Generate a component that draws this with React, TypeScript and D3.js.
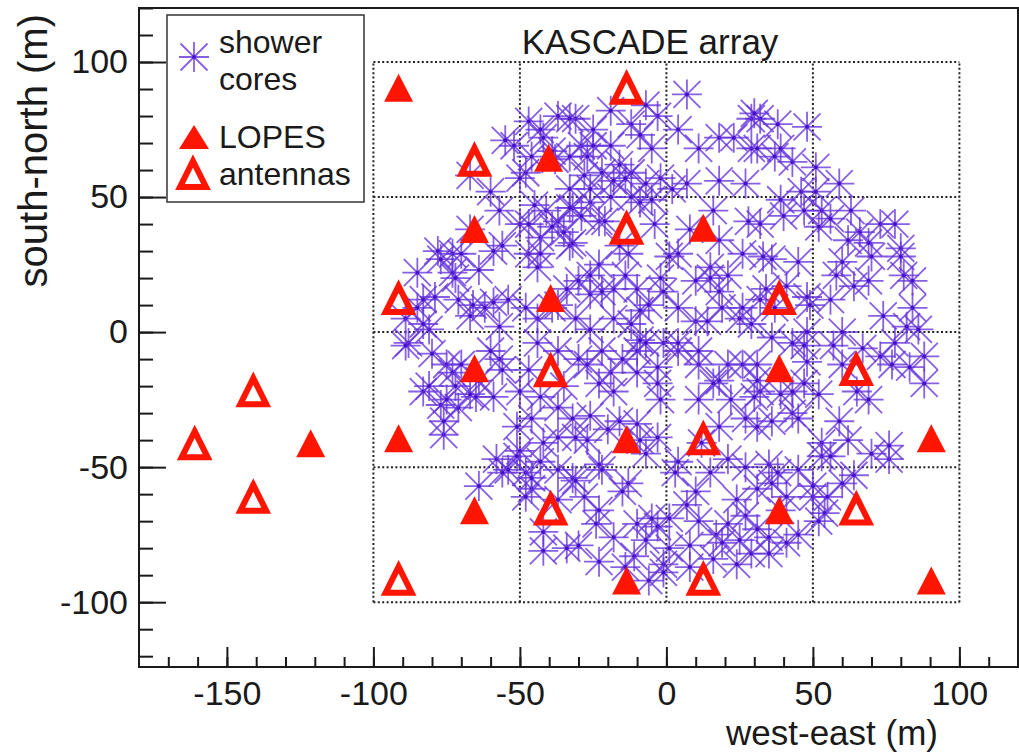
import * as d3 from 'd3';
import { useEffect, useRef } from 'react';

// shower core positions [west-east, south-north] in m
const showerCores: [number, number][] = [
    [-37, 80], [-43, 75], [-42, 72], [-52, 69], [-46, 65], [-48, 59], [-50, 57], [-67, 58],
    [-60, 52], [-33, 53], [-41, 45], [-37, 41], [-33, 32], [-43, 35], [-47, 29], [-44, 24],
    [-73, 29], [-73, 22], [-59, 30], [-56, 32], [-85, 22], [-79, 13], [-89, 5], [-67, 6],
    [-62, 9], [-54, 12], [-44, 5], [-57, 2], [-34, 16], [7, 88], [-3, 80], [-7, 84],
    [-12, 77], [-25, 75], [-29, 69], [-25, 69], [-19, 69], [-5, 68], [-16, 62], [-28, 58],
    [-12, 59], [-2, 57], [2, 53], [7, 55], [-19, 50], [-12, 50], [-9, 48], [-26, 48],
    [-23, 41], [-21, 41], [-32, 33], [-13, 29], [4, 29], [1, 28], [16, 45], [26, 29],
    [15, 24], [10, 19], [-2, 20], [-10, 16], [-18, 16], [-26, 14], [-30, 19], [18, 15],
    [4, 9], [10, 4], [14, 4], [-18, 5], [-12, 3], [11, 68], [18, 72], [23, 72],
    [29, 79], [29, 68], [28, 41], [38, 77], [48, 76], [32, 79], [43, 63], [51, 61],
    [59, 55], [46, 52], [51, 52], [47, 45], [53, 45], [63, 45], [52, 39], [32, 40],
    [73, 40], [78, 40], [33, 28], [36, 27], [45, 26], [60, 26], [70, 28], [80, 31],
    [80, 28], [81, 21], [84, 19], [64, 17], [34, 16], [48, 13], [49, 10], [74, 6],
    [82, 2], [60, 0], [48, 0], [-88, -4], [-75, -12], [-73, -15], [-83, -22], [-77, -27],
    [-75, -25], [-71, -28], [-76, -38], [-57, -10], [-59, -24], [-50, -22], [-51, -35], [-46, -32],
    [-37, -28], [-44, -4], [-58, -47], [-54, -51], [-48, -52], [-46, -58], [-64, -57], [-42, -74],
    [-37, -39], [-27, -12], [-19, -15], [-15, -10], [-10, -15], [-3, -13], [-3, -19], [-23, -19],
    [-18, -22], [-1, -4], [11, -25], [21, -12], [26, -12], [-31, -39], [-27, -40], [-26, -31],
    [-3, -39], [12, -41], [18, -35], [27, -32], [27, -50], [-13, -56], [-15, -59], [-28, -61],
    [10, -59], [7, -64], [24, -62], [-24, -71], [-5, -69], [-3, -72], [-7, -77], [-30, -79],
    [-11, -83], [-1, -86], [-1, -89], [17, -75], [19, -78], [16, -84], [29, -82], [31, -12],
    [47, -5], [57, -5], [67, -6], [48, -11], [47, -19], [52, -23], [65, -22], [73, -9],
    [77, -12], [83, -13], [88, -19], [43, -30], [36, -33], [31, -35], [53, -41], [53, -46],
    [56, -46], [70, -45], [76, -47], [35, -49], [38, -52], [36, -56], [64, -53], [50, -61],
    [55, -61], [54, -67], [52, -70], [35, -76], [41, -78], [35, -82], [-77, 27], [-83, 12],
    [-89, -5], [-81, -20], [-76, -33], [-67, -23], [-64, -18], [-42, -81], [-23, -85], [-14, -87],
    [8, -79], [25, -77], [86, 1], [88, -9], [76, -42], [-37, -7], [-31, 5], [-26, 1],
    [-9, -3], [4, -7], [11, -12], [18, -18], [22, -25], [32, -22], [39, -23], [-2, -25],
    [-16, -33], [-9, -40], [4, -48], [-23, -49], [-37, -51], [-43, -48], [-50, -44], [-37, -62],
    [-23, -66], [11, -70], [27, -68], [39, -66], [45, -51], [62, -40], [69, -25], [59, -33],
    [18, 56], [39, 68], [27, 55], [39, 49], [62, 34], [69, 19], [56, 12], [32, 12],
    [25, 5], [18, 34], [8, 38], [-4, 40], [-16, 32], [-23, 25], [-9, 8], [-37, 10],
    [-38, 64], [-31, 79], [-19, 82], [4, 75], [-9, 73], [-71, 12], [-64, 23], [-50, 40],
    [-57, 45], [-67, 38], [-81, 1], [-55, 71], [-6, -92], [8, -87],
    [-47, 78], [-39, 67], [-33, 65], [-45, 47], [-32, 46], [-35, 37], [-47, 40], [-39, 39],
    [-43, 29], [-78, 30], [-70, 29], [-72, 20], [-66, 10], [-59, 11], [-85, 9], [-83, 3],
    [-48, 9], [-39, 9], [-33, 79], [-27, 65], [-22, 59], [-18, 56], [-26, 53], [-33, 46],
    [-29, 43], [-14, 57], [-7, 55], [-5, 49], [-26, 21], [-22, 15], [-14, 21], [-6, 10],
    [-1, 15], [15, 20], [21, 21], [26, 9], [29, 3], [19, 9], [-80, -8], [-70, -12],
    [-60, -7], [-72, -20], [-65, -24], [-56, -14], [-47, -14], [-43, -24], [-35, -20], [-42, -41],
    [-51, -46], [-56, -52], [-48, -61], [-46, -54], [-32, -54], [-34, -80], [-30, -10], [-22, -7],
    [-10, -7], [-7, -4], [4, -4], [11, -7], [16, -19], [31, -18], [-32, -32], [-20, -36],
    [-10, -34], [-7, -45], [-22, -51], [-31, -55], [3, -52], [15, -52], [21, -47], [31, -58],
    [1, -69], [21, -71], [-10, -71], [-18, -76], [1, -80], [31, -73], [24, -86], [36, -2],
    [43, -4], [60, -12], [78, -4], [30, -24], [43, -22], [45, -32], [60, -56], [50, -57],
    [41, -61], [45, -75], [30, 81], [31, 68], [37, 65], [56, 42], [66, 37], [69, 33],
    [40, 43], [58, 21], [84, 9], [37, 9], [41, 17],
];

// LOPES antennas, drawn as filled triangles
const lopesFilled: [number, number][] = [
    [-91.4, 90.5], [-40.2, 64.6], [-65.5, 38.2], [12.6, 38.6], [-39.5, 12.6],
    [-65.5, -13.4], [38.5, -13.4], [-91.4, -39.3], [-13.6, -39.7], [90.4, -39.3],
    [-121.4, -41.2], [-65.5, -66], [38.5, -66], [-13.6, -92], [90.4, -92],
];

// LOPES antennas, drawn as open triangles
const lopesOpen: [number, number][] = [
    [-13.6, 90.5], [-65.5, 63.8], [-13.6, 38.6], [-91.4, 12.6], [38.5, 12.6],
    [-39.5, -14.1], [64.8, -13.7], [12.6, -39.3], [-141, -21.5], [-161, -41.2],
    [-141, -61], [-39.5, -65.3], [64.8, -65.3], [-91.4, -91.3], [12.6, -91.3],
];

const xMajorTicks = [-150, -100, -50, 0, 50, 100];
const xMinorTicks = d3.range(-170, 120, 10);
const yMajorTicks = [-100, -50, 0, 50, 100];
const yMinorTicks = d3.range(-120, 121, 10);
const gridLines = [-100, -50, 0, 50, 100];
const legendLabels = ['shower', 'cores', 'LOPES', 'antennas'];

const xDomain = [-180, 120];
const yDomain = [-124, 120];

const FONT = "'Liberation Sans', Arial, Helvetica, sans-serif";
const INK = '#1a1a1a';
const RED = '#ff1500';
const STAR = '#6533dd';

const starPath = 'M-15,0H15M0,-15V15M-13.5,-13.5L13.5,13.5M-13.5,13.5L13.5,-13.5';
const triPath = (w: number, h: number) => `M0,${-h / 2}L${w / 2},${h / 2}L${-w / 2},${h / 2}Z`;

function App() {
    return <KascadeMap />;
}

const KascadeMap = () => {
    const svgRef = useRef<SVGSVGElement>(null);

    useEffect(() => {
        const w = 1019;
        const h = 754;
        const left = 139;
        const right = 1018;
        const top = 8;
        const bottom = 667;

        d3.select(svgRef.current).selectAll('*').remove();

        const svg = d3
            .select(svgRef.current)
            .attr('width', w)
            .attr('height', h)
            .style('font-family', FONT);

        svg.append('rect').attr('width', w).attr('height', h).attr('fill', 'white');

        const x = d3.scaleLinear().domain(xDomain).range([left, right]);
        const y = d3.scaleLinear().domain(yDomain).range([bottom, top]);

        // KASCADE grid (dotted)
        const grid = svg.append('g')
            .attr('stroke', '#222')
            .attr('stroke-width', 2)
            .attr('stroke-dasharray', '2,2.4')
            .attr('fill', 'none');
        gridLines.forEach((v) => {
            grid.append('line')
                .attr('x1', x(v)).attr('x2', x(v))
                .attr('y1', y(-100)).attr('y2', y(100));
            grid.append('line')
                .attr('y1', y(v)).attr('y2', y(v))
                .attr('x1', x(-100)).attr('x2', x(100));
        });

        svg.append('text')
            .attr('x', 650)
            .attr('y', 54)
            .attr('text-anchor', 'middle')
            .attr('font-size', 35)
            .attr('fill', INK)
            .text('KASCADE array');

        // shower cores
        const drawStar = (g) => {
            g.append('path')
                .attr('d', starPath)
                .attr('stroke', STAR)
                .attr('stroke-opacity', 0.78)
                .attr('stroke-width', 1.8)
                .attr('fill', 'none');
            g.append('circle').attr('r', 2).attr('fill', '#4510cc');
        };
        svg.append('g')
            .selectAll('g')
            .data(showerCores)
            .enter()
            .append('g')
            .attr('transform', (d) => `translate(${x(d[0])},${y(d[1])})`)
            .call(drawStar);

        // antennas
        svg.append('g')
            .selectAll('path')
            .data(lopesFilled)
            .enter()
            .append('path')
            .attr('transform', (d) => `translate(${x(d[0])},${y(d[1])})`)
            .attr('d', triPath(29, 28))
            .attr('fill', RED);

        svg.append('g')
            .selectAll('path')
            .data(lopesOpen)
            .enter()
            .append('path')
            .attr('transform', (d) => `translate(${x(d[0])},${y(d[1]) + 1})`)
            .attr('d', triPath(26, 26))
            .attr('fill', 'none')
            .attr('stroke', RED)
            .attr('stroke-width', 6);

        // frame
        svg.append('rect')
            .attr('x', left).attr('y', top)
            .attr('width', right - left).attr('height', bottom - top)
            .attr('fill', 'none')
            .attr('stroke', INK)
            .attr('stroke-width', 2);

        // x axis
        const xMinor = d3.axisBottom(x).tickValues(xMinorTicks).tickSize(-10).tickFormat(() => '');
        const xMajor = d3.axisBottom(x).tickValues(xMajorTicks).tickSize(-20).tickPadding(14)
            .tickFormat((d) => `${d}`);
        [xMinor, xMajor].forEach((ax) => {
            const g = svg.append('g').attr('transform', `translate(0,${bottom})`).call(ax);
            g.select('.domain').remove();
            g.selectAll('line').attr('stroke', INK).attr('stroke-width', 2);
            g.selectAll('text').attr('font-size', 34).attr('font-family', FONT).attr('fill', INK);
        });

        // y axis
        const yMinor = d3.axisLeft(y).tickValues(yMinorTicks).tickSize(-14).tickFormat(() => '');
        const yMajor = d3.axisLeft(y).tickValues(yMajorTicks).tickSize(-27).tickPadding(11)
            .tickFormat((d) => `${d}`);
        [yMinor, yMajor].forEach((ax) => {
            const g = svg.append('g').attr('transform', `translate(${left},0)`).call(ax);
            g.select('.domain').remove();
            g.selectAll('line').attr('stroke', INK).attr('stroke-width', 2);
            g.selectAll('text').attr('font-size', 34).attr('font-family', FONT).attr('fill', INK);
        });

        svg.append('text')
            .attr('x', 938)
            .attr('y', 745)
            .attr('text-anchor', 'end')
            .attr('font-size', 35)
            .attr('fill', INK)
            .text('west-east (m)');

        svg.append('text')
            .attr('transform', 'translate(47,14) rotate(-90)')
            .attr('text-anchor', 'end')
            .attr('font-size', 40)
            .attr('fill', INK)
            .text('south-north (m)');

        // legend
        const lg = svg.append('g');
        lg.append('rect')
            .attr('x', 167).attr('y', 15)
            .attr('width', 197).attr('height', 187)
            .attr('fill', 'white')
            .attr('stroke', '#333')
            .attr('stroke-width', 1.5);
        lg.append('g').attr('transform', 'translate(194,57)').call(drawStar);
        lg.append('path').attr('transform', 'translate(194,137)').attr('d', triPath(30, 24)).attr('fill', RED);
        lg.append('path').attr('transform', 'translate(193,174)').attr('d', triPath(26, 26))
            .attr('fill', 'none').attr('stroke', RED).attr('stroke-width', 6);
        const baselines = [53, 90, 148, 185];
        legendLabels.forEach((t, i) => {
            lg.append('text').attr('x', 219).attr('y', baselines[i]).attr('font-size', 32)
                .attr('fill', INK).text(t);
        });
    }, []);

    return (
        <svg ref={svgRef} style={{ position: 'absolute', left: 0, top: 0 }}></svg>
    );
};

export default App;
